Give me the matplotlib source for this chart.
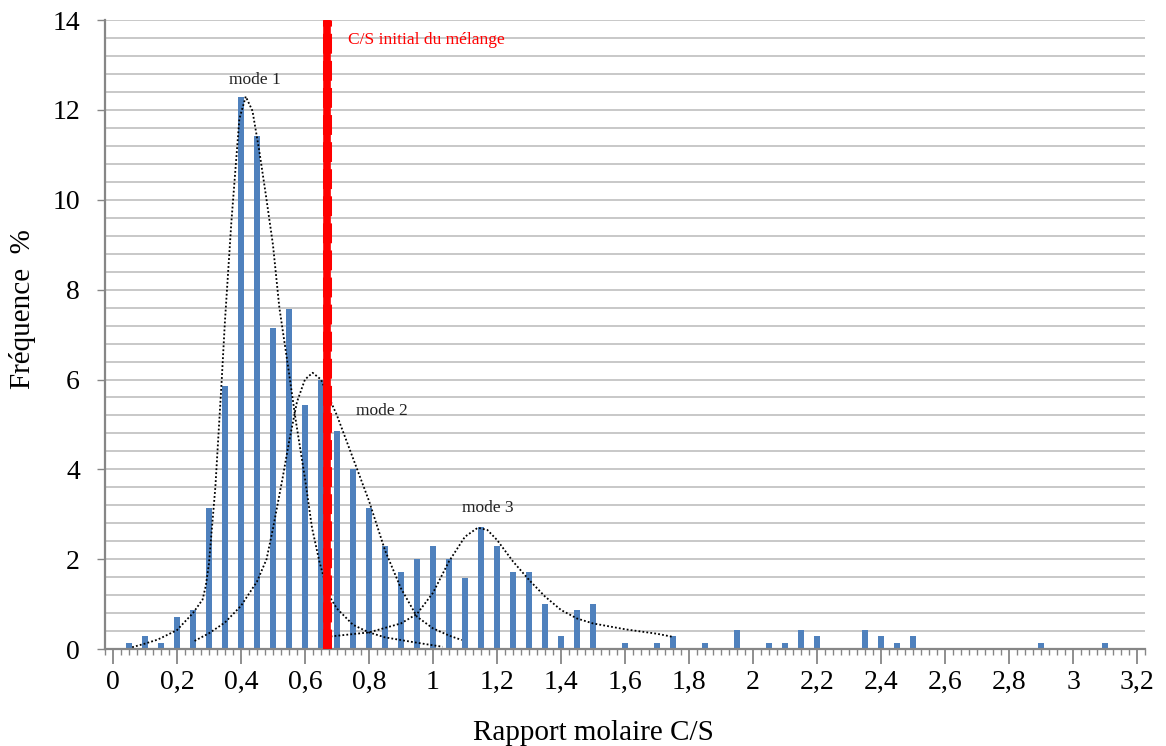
import numpy as np
import matplotlib
matplotlib.use("Agg")
import matplotlib.pyplot as plt
from matplotlib.ticker import MultipleLocator, FuncFormatter

plt.rcParams['font.family'] = ['Liberation Serif', 'DejaVu Serif']

#%% Data

# histogram of C/S ratio, frequency in %
cs_ratio = [0.05, 0.10, 0.15, 0.20, 0.25, 0.30, 0.35, 0.40, 0.45, 0.50,
            0.55, 0.60, 0.65, 0.70, 0.75, 0.80, 0.85, 0.90, 0.95, 1.00,
            1.05, 1.10, 1.15, 1.20, 1.25, 1.30, 1.35, 1.40, 1.45, 1.50,
            1.60, 1.70, 1.75, 1.85, 1.95, 2.05, 2.10, 2.15, 2.20, 2.35,
            2.40, 2.45, 2.50, 2.90, 3.10]
freq = [0.14, 0.29, 0.14, 0.71, 0.86, 3.14, 5.86, 12.29, 11.43, 7.14,
        7.57, 5.43, 6.00, 4.86, 4.00, 3.14, 2.29, 1.71, 2.00, 2.29,
        2.00, 1.57, 2.71, 2.29, 1.71, 1.71, 1.00, 0.29, 0.86, 1.00,
        0.14, 0.14, 0.29, 0.14, 0.43, 0.14, 0.14, 0.43, 0.29, 0.43,
        0.29, 0.14, 0.29, 0.14, 0.14]

# dotted mode envelopes
mode1_x = [0.06, 0.10, 0.14, 0.20, 0.25, 0.28, 0.29, 0.30, 0.32, 0.34, 0.35, 0.37,
           0.395, 0.415, 0.436, 0.457, 0.478, 0.50, 0.52, 0.547, 0.571, 0.60,
           0.622, 0.645, 0.674, 0.70, 0.75, 0.80, 0.85, 0.95, 1.03]
mode1_y = [0.04, 0.12, 0.21, 0.42, 0.80, 1.10, 1.40, 1.90, 3.60, 6.00, 7.30, 9.50,
           11.80, 12.30, 11.98, 11.10, 10.10, 9.00, 7.60, 6.30, 5.10, 3.80,
           2.70, 1.95, 1.20, 0.90, 0.54, 0.37, 0.26, 0.14, 0.05]

mode2_x = [0.255, 0.30, 0.35, 0.40, 0.45, 0.48, 0.50, 0.53, 0.55, 0.575, 0.60, 0.624,
           0.65, 0.70, 0.75, 0.80, 0.85, 0.90, 0.95, 1.00, 1.05, 1.09]
mode2_y = [0.18, 0.35, 0.59, 0.96, 1.50, 2.00, 2.68, 3.80, 4.60, 5.50, 6.00, 6.15,
           6.00, 5.20, 4.25, 3.30, 2.20, 1.35, 0.72, 0.46, 0.30, 0.20]

mode3_x = [0.68, 0.80, 0.90, 0.95, 1.00, 1.05, 1.10, 1.14, 1.17, 1.20, 1.25, 1.30,
           1.35, 1.40, 1.45, 1.50, 1.60, 1.70, 1.75]
mode3_y = [0.28, 0.37, 0.57, 0.78, 1.25, 1.95, 2.50, 2.70, 2.65, 2.43, 1.95, 1.54,
           1.17, 0.87, 0.68, 0.57, 0.44, 0.34, 0.27]

cs_initial = 0.67

#%% Figure

fig = plt.figure(figsize=(11.66, 7.46), dpi=100)
ax = fig.add_axes([0.090, 0.130, 0.892, 0.843])

# grid every 0.4
for g in np.arange(0.4, 14.01, 0.4):
    ax.axhline(g, color='#BFBFBF', lw=1.2, zorder=0)

ax.bar(cs_ratio, freq, width=0.018, color='#4F81BD', zorder=2)

for mx, my in [(mode1_x, mode1_y), (mode2_x, mode2_y), (mode3_x, mode3_y)]:
    ax.plot(mx, my, color='black', lw=1.3, linestyle=(0, (1, 1.2)), zorder=3)

# initial C/S line (thick red, dashed look)
ax.axvline(cs_initial, color='#FF0000', lw=5.5, zorder=4)
ax.axvline(cs_initial, color='#FF0000', lw=6.5, linestyle=(0, (2.2, 0.8)), zorder=4)

ax.text(0.735, 13.55, 'C/S initial du mélange', color='#FF0000', fontsize=12.5,
        ha='left', va='center')
ax.text(0.442, 12.66, 'mode 1', fontsize=12.5, ha='center', va='center', color='#222222')
ax.text(0.84, 5.3, 'mode 2', fontsize=12.5, ha='center', va='center', color='#222222')
ax.text(1.17, 3.14, 'mode 3', fontsize=12.5, ha='center', va='center', color='#222222')

ax.set_xlim(-0.025, 3.225)
ax.set_ylim(0, 14)

ax.xaxis.set_major_locator(MultipleLocator(0.2))
ax.xaxis.set_minor_locator(MultipleLocator(0.025))
ax.yaxis.set_major_locator(MultipleLocator(2))
ax.xaxis.set_major_formatter(FuncFormatter(lambda v, p: ('%g' % round(v, 1)).replace('.', ',')))

ax.tick_params(axis='x', which='major', length=11, width=1.3, color='#868686',
               labelsize=20, pad=4)
ax.tick_params(axis='x', which='minor', length=4.5, width=1.0, color='#868686')
ax.tick_params(axis='y', which='major', length=6, width=1.0, color='#868686',
               labelsize=20, pad=12)

for s in ['top', 'right']:
    ax.spines[s].set_visible(False)
for s in ['left', 'bottom']:
    ax.spines[s].set_color('#868686')
    ax.spines[s].set_linewidth(1.6)

ax.set_xlabel('Rapport molaire C/S', fontsize=21)
ax.set_ylabel('Fréquence  %', fontsize=21)
ax.xaxis.set_label_coords(0.47, -0.113)
ax.yaxis.set_label_coords(-0.066, 0.541)

fig.savefig('out.png', dpi=100)
